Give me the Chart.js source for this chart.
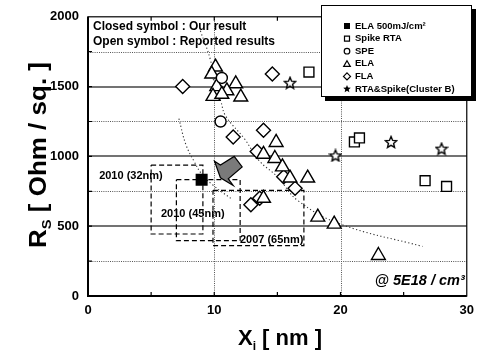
<!DOCTYPE html>
<html>
<head>
<meta charset="utf-8">
<script src="https://cdn.jsdelivr.net/npm/chart.js@4.4.1/dist/chart.umd.min.js"></script>
<style>
  body { margin: 0; background: #fff; }
  canvas { display: block; }
</style>
</head>
<body>
<canvas id="rsChart" width="481" height="352"></canvas>
<script>
// values
const elaOurX = [9.0];
const elaOurY = [833];
const spikeRtaX = [17.5, 21.1, 21.5, 26.7, 28.4];
const spikeRtaY = [1604, 1104, 1132, 826, 785];
const speX = [10.6, 10.5];
const speY = [1562, 1250];
const elaX = [10.1, 9.8, 10.2, 11.7, 11.0, 9.9, 10.6, 12.1, 14.9, 13.9, 14.8, 15.4, 16.0, 17.4, 13.9, 18.2, 19.5, 23.0];
const elaY = [1640, 1590, 1500, 1520, 1470, 1430, 1445, 1425, 1100, 1015, 985, 925, 845, 845, 700, 565, 515, 290];
const flaX = [7.5, 14.6, 11.5, 13.9, 13.4, 15.5, 16.4, 12.9, 13.6];
const flaY = [1500, 1590, 1139, 1188, 1035, 854, 771, 653, 701];
const clusterBX = [16.0, 19.6, 24.0, 28.0];
const clusterBY = [1528, 1007, 1104, 1056];

// dotted trend guides
const trendAX = [8.9, 9.7, 10.0, 10.5, 10.9, 12.4, 13.6, 15.0, 16.6, 20.0, 26.5];
const trendAY = [1900, 1690, 1520, 1400, 1290, 1125, 965, 855, 685, 515, 355];
const trendBX = [7.2, 7.75, 8.4, 9.0, 9.95, 11.3];
const trendBY = [1270, 1085, 965, 875, 790, 700];

// target windows
const nodeLabels = ['2010 (32nm)', '2010 (45nm)', '2007 (65nm)'];
const nodeXMin = [5.0, 7.0, 9.9];
const nodeXMax = [9.1, 12.05, 17.1];
const nodeYMin = [444, 396, 361];
const nodeYMax = [938, 833, 757];
const nodeLabelX = [3.4, 8.3, 14.55];
const nodeLabelY = [861, 590, 403];

// gray arrow pointing at our result
const arrowX = [10.02, 10.49, 11.58, 12.21, 11.11, 11.5, 10.49];
const arrowY = [965, 938, 1000, 924, 840, 792, 847];

const FONT = "'Liberation Sans', Arial, sans-serif";

function pts(xs, ys) {
    return xs.map((x, i) => ({ x: x, y: ys[i] }));
}

function starShape(g, cx, cy, R) {
    g.beginPath();
    for (let i = 0; i < 10; i++) {
        const a = -Math.PI / 2 + i * Math.PI / 5;
        const rr = i % 2 ? R * 0.45 : R;
        g.lineTo(cx + rr * Math.cos(a), cy + rr * Math.sin(a));
    }
    g.closePath();
}

function starCanvas(size) {
    const c = document.createElement('canvas');
    c.width = size; c.height = size;
    const g = c.getContext('2d');
    starShape(g, size / 2, size / 2 + 0.6, size / 2 - 1);
    g.fillStyle = '#fff';
    g.fill();
    g.lineWidth = 1.4;
    g.strokeStyle = '#000';
    g.stroke();
    return c;
}

// small legend markers
function drawMark(g, kind, x, y) {
    g.save();
    g.lineWidth = 1.2;
    g.strokeStyle = '#000';
    g.fillStyle = '#fff';
    g.beginPath();
    if (kind === 'fsquare') {
        g.fillStyle = '#000';
        g.rect(x - 3, y - 3, 6, 6); g.fill();
    } else if (kind === 'square') {
        g.rect(x - 2.5, y - 2.5, 5, 5); g.stroke();
    } else if (kind === 'circle') {
        g.arc(x, y, 2.8, 0, Math.PI * 2); g.stroke();
    } else if (kind === 'triangle') {
        g.moveTo(x, y - 3); g.lineTo(x + 3.3, y + 2.6); g.lineTo(x - 3.3, y + 2.6); g.closePath(); g.stroke();
    } else if (kind === 'diamond') {
        g.moveTo(x, y - 3.5); g.lineTo(x + 3.5, y); g.lineTo(x, y + 3.5); g.lineTo(x - 3.5, y); g.closePath(); g.stroke();
    } else if (kind === 'star') {
        g.fillStyle = '#000';
        starShape(g, x, y, 4); g.fill();
    }
    g.restore();
}

function lineSet(data, dash, width, color, tension) {
    return {
        data: data, showLine: true, pointRadius: 0, pointHoverRadius: 0,
        borderColor: color, borderWidth: width, borderDash: dash,
        fill: false, tension: tension || 0, order: 5
    };
}

function boxPts(i) {
    return pts([nodeXMin[i], nodeXMax[i], nodeXMax[i], nodeXMin[i], nodeXMin[i]],
                [nodeYMax[i], nodeYMax[i], nodeYMin[i], nodeYMin[i], nodeYMax[i]]);
}

function markSet(label, data, style, radius, fillColor, mark) {
    return {
        label: label, data: data, showLine: false,
        pointStyle: style, pointRadius: radius, pointHoverRadius: radius,
        pointBackgroundColor: fillColor, pointBorderColor: '#000', pointBorderWidth: 1.4,
        borderColor: '#000', backgroundColor: fillColor, legendMark: mark, order: 1
    };
}

const datasets = [
    lineSet(pts(trendAX, trendAY), [1.2, 2.4], 1.1, '#333', 0.4),
    lineSet(pts(trendBX, trendBY), [1.2, 2.4], 1.1, '#333', 0.4),
    lineSet(boxPts(0), [5, 3], 1.2, '#000'),
    lineSet(boxPts(1), [5, 3], 1.2, '#000'),
    lineSet(boxPts(2), [5, 3], 1.2, '#000'),
    markSet('ELA 500mJ/cm²', pts(elaOurX, elaOurY), 'rect', 7.5, '#000', 'fsquare'),
    markSet('Spike RTA', pts(spikeRtaX, spikeRtaY), 'rect', 7, '#fff', 'square'),
    markSet('SPE', pts(speX, speY), 'circle', 5.5, '#fff', 'circle'),
    markSet('ELA', pts(elaX, elaY), 'triangle', 8, '#fff', 'triangle'),
    markSet('FLA', pts(flaX, flaY), 'rectRot', 7, '#fff', 'diamond'),
    markSet('RTA&Spike(Cluster B)', pts(clusterBX, clusterBY), starCanvas(14), 7, '#fff', 'star')
];

const gridPlugin = {
    id: 'gridPlugin',
    beforeDatasetsDraw(chart) {
        const { ctx, chartArea: a, scales: { x, y } } = chart;
        ctx.save();
        [250, 750, 1250, 1750].forEach(v => {
            const py = Math.round(y.getPixelForValue(v)) + 0.5;
            ctx.beginPath(); ctx.setLineDash([1, 1.2]); ctx.lineWidth = 1; ctx.strokeStyle = '#555';
            ctx.moveTo(a.left, py); ctx.lineTo(a.right, py); ctx.stroke();
        });
        [10, 20].forEach(v => {
            const px = Math.round(x.getPixelForValue(v)) + 0.5;
            ctx.beginPath(); ctx.setLineDash([1, 1.2]); ctx.lineWidth = 1; ctx.strokeStyle = '#555';
            ctx.moveTo(px, a.top); ctx.lineTo(px, a.bottom); ctx.stroke();
        });
        [500, 1000, 1500].forEach(v => {
            const py = Math.round(y.getPixelForValue(v));
            ctx.beginPath(); ctx.setLineDash([]); ctx.lineWidth = 1.6; ctx.strokeStyle = '#444';
            ctx.moveTo(a.left, py); ctx.lineTo(a.right, py); ctx.stroke();
        });
        ctx.restore();
    },
    afterDatasetsDraw(chart) {
        const { ctx, chartArea: a, scales: { x, y } } = chart;
        ctx.save();
        // arrow
        ctx.beginPath();
        arrowX.forEach((v, i) => ctx.lineTo(x.getPixelForValue(v), y.getPixelForValue(arrowY[i])));
        ctx.closePath();
        ctx.fillStyle = '#7a7a7a'; ctx.fill();
        ctx.lineWidth = 1.2; ctx.strokeStyle = '#000'; ctx.stroke();

        // frame and inward ticks
        ctx.strokeStyle = '#000';
        ctx.lineWidth = 1.2;
        ctx.strokeRect(a.left, a.top, a.right - a.left, a.bottom - a.top);
        ctx.lineWidth = 2;
        ctx.beginPath();
        ctx.moveTo(a.left, a.top); ctx.lineTo(a.left, a.bottom); ctx.lineTo(a.right, a.bottom);
        ctx.stroke();
        ctx.lineWidth = 1.2;
        ctx.beginPath();
        for (let v = 5; v < 30; v += 5) {
            const px = x.getPixelForValue(v);
            ctx.moveTo(px, a.bottom); ctx.lineTo(px, a.bottom - 4);
            ctx.moveTo(px, a.top); ctx.lineTo(px, a.top + 4);
        }
        for (let v = 250; v < 2000; v += 250) {
            const py = y.getPixelForValue(v);
            ctx.moveTo(a.left, py); ctx.lineTo(a.left + 4, py);
        }
        ctx.stroke();

        // text annotations
        ctx.fillStyle = '#000';
        ctx.textBaseline = 'middle';
        ctx.textAlign = 'center';
        ctx.font = 'bold 11px ' + FONT;
        nodeLabels.forEach((t, i) => {
            ctx.fillText(t, x.getPixelForValue(nodeLabelX[i]), y.getPixelForValue(nodeLabelY[i]));
        });
        ctx.textAlign = 'left';
        ctx.font = 'bold 12px ' + FONT;
        ctx.fillText('Closed symbol : Our result', a.left + 5, a.top + 10);
        ctx.fillText('Open symbol : Reported results', a.left + 5, a.top + 25);
        ctx.textAlign = 'right';
        ctx.font = 'italic bold 14.5px ' + FONT;
        ctx.fillText('@ 5E18 / cm³', a.right - 2, a.bottom - 15);
        ctx.restore();
    },
    afterDraw(chart) {
        const { ctx } = chart;
        ctx.save();
        // boxed legend with drop shadow
        const bx = 321, by = 5, bw = 151, bh = 92;
        ctx.fillStyle = '#000';
        ctx.fillRect(bx + 4, by + 4, bw, bh);
        ctx.fillStyle = '#fff';
        ctx.fillRect(bx, by, bw, bh);
        ctx.strokeStyle = '#000'; ctx.lineWidth = 1;
        ctx.strokeRect(bx + 0.5, by + 0.5, bw - 1, bh - 1);
        ctx.font = 'bold 9.5px ' + FONT;
        ctx.textAlign = 'left';
        ctx.textBaseline = 'middle';
        const items = chart.data.datasets.filter(d => d.legendMark);
        items.forEach((d, i) => {
            const ly = by + 21 + i * 12.6;
            drawMark(ctx, d.legendMark, 347, ly);
            ctx.fillStyle = '#000';
            ctx.fillText(d.label, 355, ly);
        });

        // axis titles with subscripts
        ctx.fillStyle = '#000';
        ctx.textBaseline = 'alphabetic';
        ctx.textAlign = 'left';
        let big = 'bold 22px ' + FONT, small = 'bold 12px ' + FONT;
        // x title
        ctx.font = big; const wX = ctx.measureText('X').width; const wR1 = ctx.measureText(' [ nm ]').width;
        ctx.font = small; const wi = ctx.measureText('i').width;
        let sx = 280 - (wX + wi + wR1) / 2;
        const base = 345;
        ctx.font = big; ctx.fillText('X', sx, base);
        ctx.font = small; ctx.fillText('i', sx + wX, base + 5);
        ctx.font = big; ctx.fillText(' [ nm ]', sx + wX + wi, base);
        // y title, stretched along its length like the original
        big = 'bold 23px ' + FONT; small = 'bold 13px ' + FONT;
        ctx.translate(46, 155);
        ctx.rotate(-Math.PI / 2);
        ctx.scale(1.13, 1);
        ctx.font = big; const wRs = ctx.measureText('R').width; const wRest = ctx.measureText(' [ Ohm / sq. ]').width;
        ctx.font = small; const ws = ctx.measureText('S').width;
        sx = -(wRs + ws + wRest) / 2;
        ctx.font = big; ctx.fillText('R', sx, 0);
        ctx.font = small; ctx.fillText('S', sx + wRs, 5);
        ctx.font = big; ctx.fillText(' [ Ohm / sq. ]', sx + wRs + ws, 0);
        ctx.restore();
    }
};

const ctx = document.getElementById('rsChart').getContext('2d');
const rsChart = new Chart(ctx, {
    type: 'line',
    data: { datasets: datasets },
    options: {
        responsive: false,
        animation: false,
        devicePixelRatio: 1,
        layout: { padding: { top: 8, right: 10, left: 0, bottom: 0 } },
        plugins: {
            legend: { display: false },
            tooltip: { enabled: false },
            title: { display: false }
        },
        scales: {
            x: {
                type: 'linear', min: 0, max: 30,
                grid: { display: false, drawTicks: false },
                border: { display: false },
                ticks: {
                    stepSize: 5, autoSkip: false, maxRotation: 0, padding: 7,
                    color: '#000', font: { family: FONT, weight: 'bold', size: 13 },
                    callback: v => (v % 10 === 0 ? v : '')
                },
                afterFit: s => { s.height = 56; }
            },
            y: {
                type: 'linear', min: 0, max: 2000,
                grid: { display: false, drawTicks: false },
                border: { display: false },
                ticks: {
                    stepSize: 250, autoSkip: false, padding: 9,
                    color: '#000', font: { family: FONT, weight: 'bold', size: 13 },
                    callback: v => (v % 500 === 0 ? v : '')
                },
                afterFit: s => { s.width = 88; }
            }
        }
    },
    plugins: [gridPlugin]
});
</script>
</body>
</html>
